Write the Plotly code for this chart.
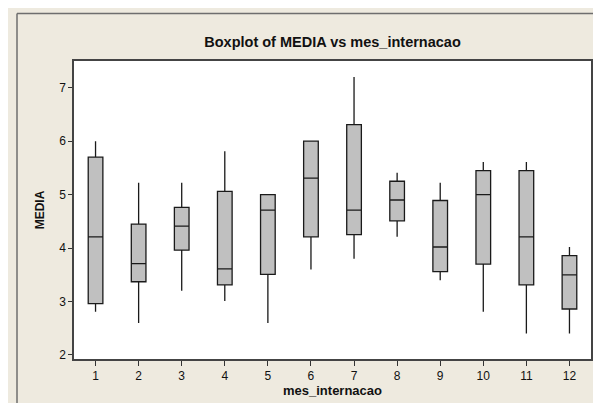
import plotly.graph_objects as go

months = [1, 2, 3, 4, 5, 6, 7, 8, 9, 10, 11, 12]
lower_whisker = [2.81, 2.60, 3.20, 3.01, 2.60, 3.60, 3.80, 4.21, 3.40, 2.81, 2.40, 2.40]
q1_values     = [2.96, 3.37, 3.96, 3.31, 3.51, 4.21, 4.25, 4.51, 3.56, 3.70, 3.31, 2.86]
median_values = [4.21, 3.71, 4.41, 3.61, 4.71, 5.31, 4.71, 4.90, 4.02, 5.00, 4.21, 3.50]
q3_values     = [5.70, 4.45, 4.76, 5.06, 5.00, 6.00, 6.31, 5.25, 4.89, 5.45, 5.45, 3.86]
upper_whisker = [6.00, 5.22, 5.22, 5.81, 5.00, 6.00, 7.20, 5.41, 5.22, 5.61, 5.61, 4.02]
y_ticks = [2, 3, 4, 5, 6, 7]

fig = go.Figure()
fig.add_trace(go.Box(
    x=months,
    q1=q1_values,
    median=median_values,
    q3=q3_values,
    lowerfence=lower_whisker,
    upperfence=upper_whisker,
    width=0.34,
    whiskerwidth=0,
    fillcolor="#C0C0C0",
    line=dict(color="#1a1a1a", width=1.3),
    showlegend=False,
    hoverinfo="skip",
))

W, H = 601, 403
ml, mr, mt, mb = 66, 18, 53, 52
pw, ph = W - ml - mr, H - mt - mb

def px_x(x):
    return (x - ml) / pw

def px_y(y):
    return 1 - (y - mt) / ph

fig.update_layout(
    width=W, height=H,
    margin=dict(l=ml, r=mr, t=mt, b=mb, pad=0),
    paper_bgcolor="#EEEADF",
    plot_bgcolor="white",
    font=dict(family="Liberation Sans, Arial, sans-serif", color="#111111", size=12),
    title=dict(
        text="<b>Boxplot of MEDIA vs mes_internacao</b>",
        x=0.5, xref="paper", xanchor="center",
        y=1 - 33.5 / H, yanchor="middle",
        font=dict(size=14.5, color="#111111"),
    ),
    xaxis=dict(
        range=[0.5, 12.5],
        tickvals=months,
        ticktext=[str(m) for m in months],
        ticks="outside", ticklen=5, tickcolor="#333333", tickwidth=1,
        showgrid=False, zeroline=False,
        showline=True, linecolor="#444444", linewidth=1.5, mirror=True,
        title=dict(text="<b>mes_internacao</b>", font=dict(size=13), standoff=4),
        tickfont=dict(size=12),
    ),
    yaxis=dict(
        range=[1.925, 7.5],
        tickvals=y_ticks,
        ticks="outside", ticklen=4, tickcolor="#333333", tickwidth=1,
        showgrid=False, zeroline=False,
        showline=True, linecolor="#444444", linewidth=1.5, mirror=True,
        title=dict(text="<b>MEDIA</b>", font=dict(size=12), standoff=12),
        tickfont=dict(size=12),
    ),
    shapes=[
        dict(type="line", xref="paper", yref="paper",
             x0=px_x(9), x1=px_x(610), y0=px_y(5.5), y1=px_y(5.5),
             line=dict(color="#6E6E6E", width=1.5), layer="above"),
        dict(type="line", xref="paper", yref="paper",
             x0=px_x(9), x1=px_x(9), y0=px_y(5.5), y1=px_y(410),
             line=dict(color="#6E6E6E", width=1.5), layer="above"),
    ],
)

fig.write_html("out.html")
